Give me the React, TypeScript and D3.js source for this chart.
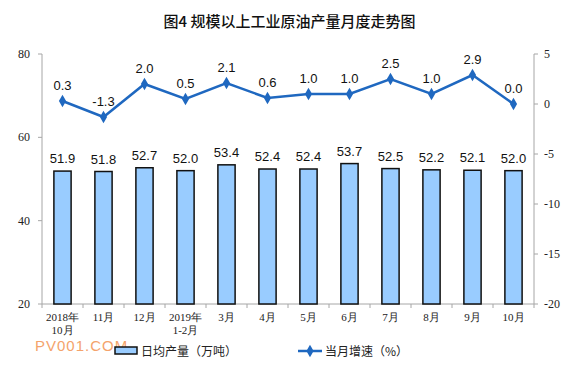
import * as React from "react"
import * as d3 from "d3"

const categories = [
  ["2018年", "10月"],
  ["11月"],
  ["12月"],
  ["2019年", "1-2月"],
  ["3月"],
  ["4月"],
  ["5月"],
  ["6月"],
  ["7月"],
  ["8月"],
  ["9月"],
  ["10月"],
]
const dailyOutput = [51.9, 51.8, 52.7, 52.0, 53.4, 52.4, 52.4, 53.7, 52.5, 52.2, 52.1, 52.0]
const monthlyGrowth = [0.3, -1.3, 2.0, 0.5, 2.1, 0.6, 1.0, 1.0, 2.5, 1.0, 2.9, 0.0]
const leftTicks = [20, 40, 60, 80]
const rightTicks = [-20, -15, -10, -5, 0, 5]

const width = 579
const height = 366
const margin = { top: 54, right: 45, bottom: 62, left: 42 }
const serif = "'Liberation Serif', 'Times New Roman', serif"
const cjk = "'Noto Sans CJK SC', sans-serif"
const sans = "'Liberation Sans', Arial, sans-serif"
const lineColor = "#1f68c0"

export default function App() {
  const svgRef = React.useRef<SVGSVGElement>(null)

  React.useEffect(() => {
    if (!svgRef.current) return
    const svg = d3.select(svgRef.current)
    svg.selectAll("*").remove()

    const x0 = margin.left
    const x1 = width - margin.right
    const yTop = margin.top
    const yBot = height - margin.bottom

    const x = d3
      .scaleBand<number>()
      .domain(d3.range(categories.length))
      .range([x0, x1])
      .paddingInner(0.58)
      .paddingOuter(0.29)
    const yLeft = d3.scaleLinear().domain([20, 80]).range([yBot, yTop])
    const yRight = d3.scaleLinear().domain([-20, 5]).range([yBot, yTop])
    const step = (x1 - x0) / categories.length
    const cx = (i: number) => x0 + step * (i + 0.5)

    // title
    svg
      .append("text")
      .attr("x", width / 2)
      .attr("y", 27)
      .attr("text-anchor", "middle")
      .style("font-family", cjk)
      .style("font-size", "15px")
      .style("font-weight", 500)
      .style("fill", "#111")
      .text("图4  规模以上工业原油产量月度走势图")

    const axisColor = "#a6a6a6"

    // left axis
    svg.append("line").attr("x1", x0).attr("x2", x0).attr("y1", yTop).attr("y2", yBot).attr("stroke", axisColor)
    leftTicks.forEach((t) => {
      svg.append("line").attr("x1", x0 - 4).attr("x2", x0).attr("y1", yLeft(t)).attr("y2", yLeft(t)).attr("stroke", axisColor)
      svg
        .append("text")
        .attr("x", x0 - 12)
        .attr("y", yLeft(t) + 4)
        .attr("text-anchor", "end")
        .style("font-family", serif)
        .style("font-size", "12px")
        .style("fill", "#222")
        .text(t)
    })

    // right axis
    svg.append("line").attr("x1", x1).attr("x2", x1).attr("y1", yTop).attr("y2", yBot).attr("stroke", axisColor)
    rightTicks.forEach((t) => {
      svg.append("line").attr("x1", x1).attr("x2", x1 + 4).attr("y1", yRight(t)).attr("y2", yRight(t)).attr("stroke", axisColor)
      svg
        .append("text")
        .attr("x", x1 + 10)
        .attr("y", yRight(t) + 4)
        .attr("text-anchor", "start")
        .style("font-family", serif)
        .style("font-size", "12px")
        .style("fill", "#222")
        .text(t)
    })

    // bottom axis
    svg.append("line").attr("x1", x0).attr("x2", x1).attr("y1", yBot).attr("y2", yBot).attr("stroke", axisColor)
    d3.range(categories.length + 1).forEach((i) => {
      const tx = x0 + step * i
      svg.append("line").attr("x1", tx).attr("x2", tx).attr("y1", yBot).attr("y2", yBot + 4).attr("stroke", axisColor)
    })

    categories.forEach((lines, i) => {
      lines.forEach((l, j) => {
        svg
          .append("text")
          .attr("x", cx(i))
          .attr("y", yBot + 17 + j * 13)
          .attr("text-anchor", "middle")
          .style("font-family", serif)
          .style("font-size", "11px")
          .style("fill", "#222")
          .text(l)
      })
    })

    // bars
    dailyOutput.forEach((v, i) => {
      svg
        .append("rect")
        .attr("x", x(i)!)
        .attr("y", yLeft(v))
        .attr("width", x.bandwidth())
        .attr("height", yBot - yLeft(v))
        .attr("fill", "#99ccff")
        .attr("stroke", "#111")
        .attr("stroke-width", 1.5)
      svg
        .append("text")
        .attr("x", cx(i))
        .attr("y", yLeft(v) - 8)
        .attr("text-anchor", "middle")
        .style("font-family", sans)
        .style("font-size", "13px")
        .style("fill", "#111")
        .text(v.toFixed(1))
    })

    // line
    const line = d3
      .line<number>()
      .x((_, i) => cx(i))
      .y((d) => yRight(d))
    svg
      .append("path")
      .attr("d", line(monthlyGrowth))
      .attr("fill", "none")
      .attr("stroke", lineColor)
      .attr("stroke-width", 2.5)
    const diamond = d3.symbol().type(d3.symbolDiamond).size(45)
    monthlyGrowth.forEach((v, i) => {
      svg
        .append("path")
        .attr("d", diamond())
        .attr("transform", `translate(${cx(i)},${yRight(v)})`)
        .attr("fill", lineColor)
      svg
        .append("text")
        .attr("x", cx(i))
        .attr("y", yRight(v) - 11)
        .attr("text-anchor", "middle")
        .style("font-family", sans)
        .style("font-size", "13px")
        .style("fill", "#111")
        .text(v.toFixed(1))
    })

    // watermark
    svg
      .append("text")
      .attr("x", 35)
      .attr("y", 351)
      .style("font-family", sans)
      .style("font-size", "15px")
      .style("letter-spacing", "1px")
      .style("fill", "#f4a36b")
      .text("PV001.COM")

    // legend
    const ly = 351
    svg
      .append("rect")
      .attr("x", 115)
      .attr("y", ly - 4)
      .attr("width", 22)
      .attr("height", 7)
      .attr("fill", "#99ccff")
      .attr("stroke", "#111")
      .attr("stroke-width", 1.5)
    svg
      .append("text")
      .attr("x", 141)
      .attr("y", ly + 5)
      .style("font-family", cjk)
      .style("font-size", "12px")
      .style("fill", "#222")
      .text("日均产量（万吨）")
    svg
      .append("line")
      .attr("x1", 298)
      .attr("x2", 322)
      .attr("y1", ly)
      .attr("y2", ly)
      .attr("stroke", lineColor)
      .attr("stroke-width", 2.5)
    svg
      .append("path")
      .attr("d", diamond())
      .attr("transform", `translate(310,${ly})`)
      .attr("fill", lineColor)
    svg
      .append("text")
      .attr("x", 325)
      .attr("y", ly + 5)
      .style("font-family", cjk)
      .style("font-size", "12px")
      .style("fill", "#222")
      .text("当月增速（%）")
  }, [])

  return (
    <div style={{ position: "absolute", left: 0, top: 0 }}>
      <svg ref={svgRef} width={width} height={height} style={{ display: "block", background: "#fff" }} />
    </div>
  )
}
